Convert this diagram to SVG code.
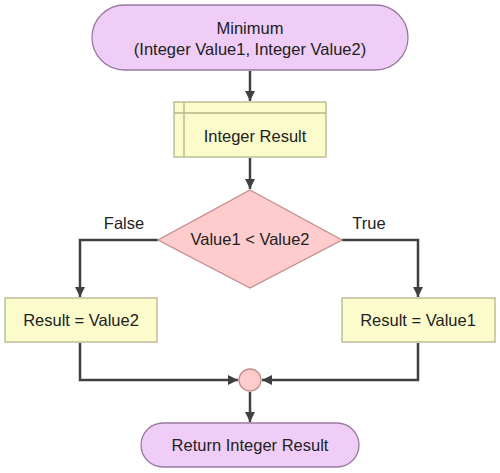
<svg xmlns="http://www.w3.org/2000/svg" width="500" height="473" viewBox="0 0 500 473">
<defs>
<style>
.term{fill:#efcdf6;stroke:#9a7aa2;stroke-width:1.3}
.proc{fill:#fbfbcb;stroke:#b4b48a;stroke-width:1.3}
.dec{fill:#fecccc;stroke:#c28c8c;stroke-width:1.3}
.t{font-family:"Liberation Sans",Arial,sans-serif;font-size:16.5px;fill:#222;text-anchor:middle}
.c{fill:none;stroke:#404040;stroke-width:2.5}
</style>
<marker id="ah" viewBox="0 0 10 10" refX="10" refY="5" markerWidth="4" markerHeight="4" orient="auto" markerUnits="strokeWidth">
<path d="M0,0 L10,5 L0,10 z" fill="#404040"/>
</marker>
</defs>
<rect width="500" height="473" fill="#fff"/>
<g id="connectors">
<path class="c" d="M250,71 V101" marker-end="url(#ah)"/>
<path class="c" d="M250,158 V189" marker-end="url(#ah)"/>
<path class="c" d="M158,240 H80 V297" marker-end="url(#ah)"/>
<path class="c" d="M342,240 H418 V297" marker-end="url(#ah)"/>
<path class="c" d="M80,343 V380 H238" marker-end="url(#ah)"/>
<path class="c" d="M418,343 V380 H262" marker-end="url(#ah)"/>
<path class="c" d="M250,392 V422" marker-end="url(#ah)"/>
<text class="t" x="124" y="229">False</text>
<text class="t" x="369" y="229">True</text>
</g>
<g id="start">
<rect class="term" x="92" y="5" width="316" height="65" rx="32.5"/>
<text class="t" x="250" y="34">Minimum</text>
<text class="t" x="250" y="55">(Integer Value1, Integer Value2)</text>
</g>
<g id="declare">
<rect class="proc" x="174" y="102" width="152" height="55"/>
<line class="proc" x1="184" y1="102" x2="184" y2="157"/>
<line class="proc" x1="174" y1="113" x2="326" y2="113"/>
<text class="t" x="255" y="142">Integer Result</text>
</g>
<g id="decision">
<polygon class="dec" points="250,190 342,240 250,288 158,240"/>
<text class="t" x="250" y="245">Value1 &lt; Value2</text>
</g>
<g id="false-box">
<rect class="proc" x="5" y="298" width="152" height="44"/>
<text class="t" x="81" y="326">Result = Value2</text>
</g>
<g id="true-box">
<rect class="proc" x="342" y="298" width="153" height="44"/>
<text class="t" x="418" y="326">Result = Value1</text>
</g>
<g id="merge">
<circle class="dec" cx="250" cy="380" r="11"/>
</g>
<g id="end">
<rect class="term" x="141" y="423" width="218" height="44" rx="22"/>
<text class="t" x="250" y="451">Return Integer Result</text>
</g>
</svg>
